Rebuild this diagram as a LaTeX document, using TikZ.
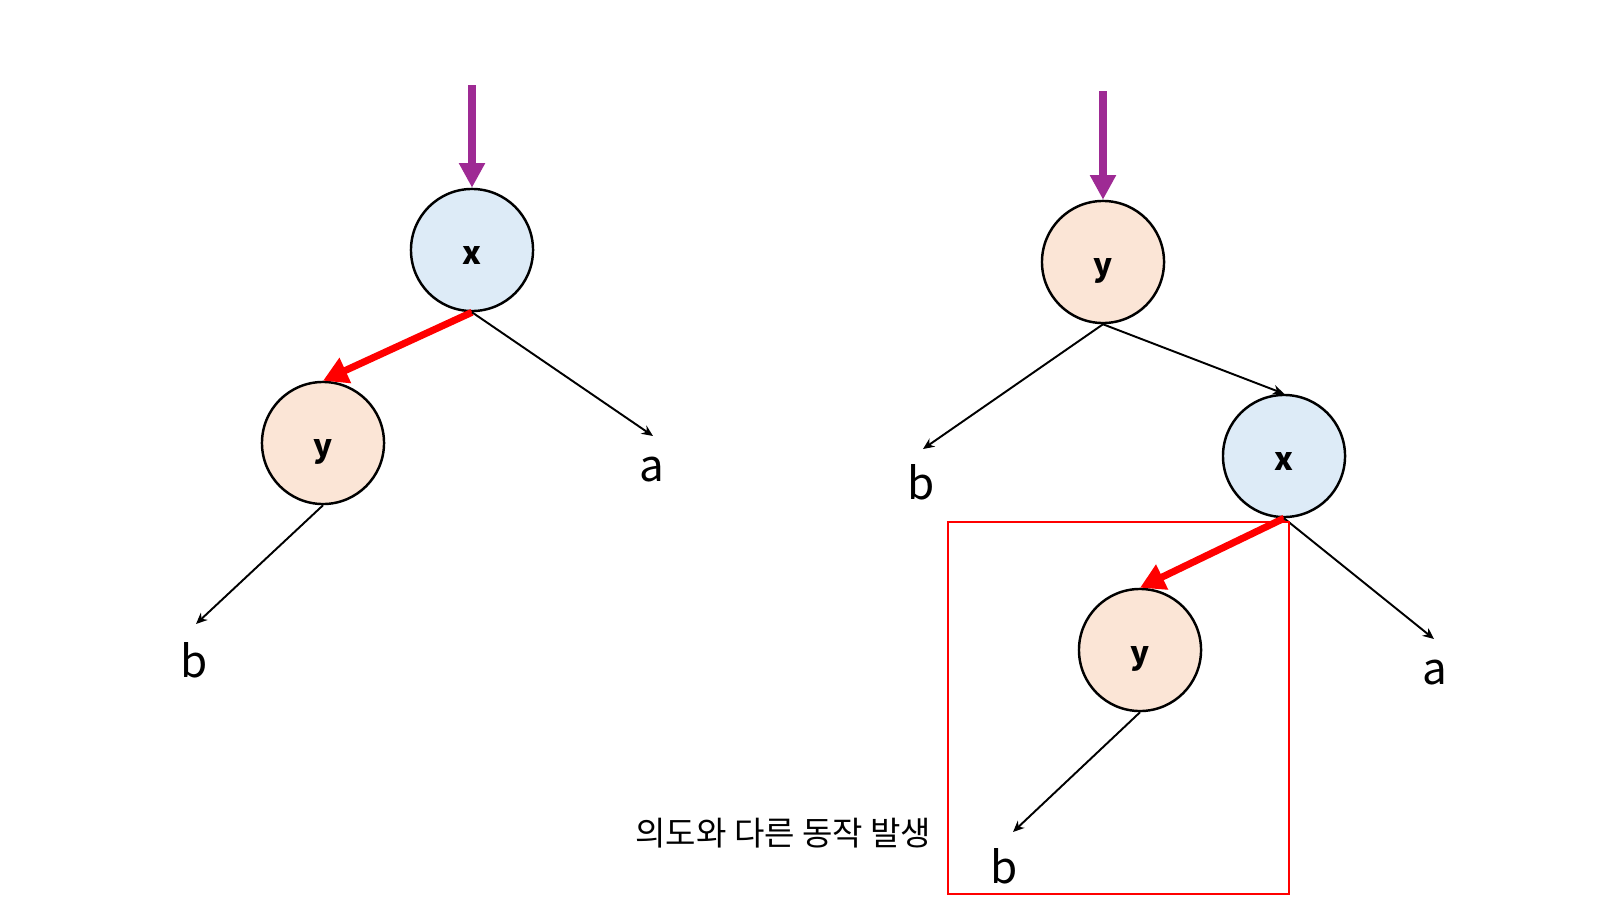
\documentclass[tikz,border=0pt]{standalone}
\usepackage{fontspec}
\setmainfont{Noto Sans CJK KR}
\usetikzlibrary{arrows.meta}
\definecolor{xblue}{HTML}{DDEBF7}
\definecolor{ypeach}{HTML}{FBE5D6}
\definecolor{entry}{HTML}{9E2A94}
\tikzset{
  keynode/.style={circle,draw,line width=0.7pt,minimum size=1.22cm,inner sep=0pt,text height=1.5ex,text depth=0pt,font=\fontsize{9}{10}\selectfont\bfseries},
  leaf/.style={inner sep=0pt,font=\fontsize{12.5}{14}\selectfont},
  link/.style={line width=0.55pt,-{Stealth[length=3.2pt,width=2.8pt]}},
  hot/.style={red,line width=2pt,-{Triangle[length=7pt,width=7.5pt]}},
  start/.style={entry,line width=2.3pt,-{Triangle[length=7pt,width=7pt]}}
}
\begin{document}
\begin{tikzpicture}[x=0.01cm,y=-0.01cm]
\useasboundingbox (0,0) rectangle (1600,900);
% before
\coordinate (T1) at (472,85); \coordinate (A1) at (653,436); \coordinate (B1) at (196,624);
\node[keynode,fill=xblue] (x1) at (472,250) {x};
\node[keynode,fill=ypeach] (y1) at (323,443) {y};
\draw[start] (T1)--(x1.north);
\draw[hot] (x1.south)--(y1.north);
\draw[link] (x1.south)--(A1);
\draw[link] (y1.south)--(B1);
% after
\coordinate (T2) at (1103,91); \coordinate (A2) at (1434,639); \coordinate (B2) at (923,449); \coordinate (B3) at (1013,832);
\node[keynode,fill=ypeach] (y2) at (1103,262) {y};
\node[keynode,fill=xblue] (x2) at (1284,456) {x};
\node[keynode,fill=ypeach] (y3) at (1140,650) {y};
\draw[start] (T2)--(y2.north);
\draw[link] (y2.south)--(B2);
\draw[link] (y2.south)--(x2.north);
\draw[hot] (x2.south)--(y3.north);
\draw[link] (x2.south)--(A2);
\draw[link] (y3.south)--(B3);
\foreach \n/\t/\p in {a1/a/{652,470},b1/b/{194,660},b2/b/{921,482},a2/a/{1435,673},b3/b/{1004,866}}{\node[leaf] (\n) at (\p) {\t};}
\draw[red,line width=0.6pt] (948,522) rectangle (1289,894);
\node[anchor=east,inner sep=0pt,font=\fontsize{9.4}{11}\selectfont] (note) at (932,833) {의도와 다른 동작 발생};
\end{tikzpicture}
\end{document}
